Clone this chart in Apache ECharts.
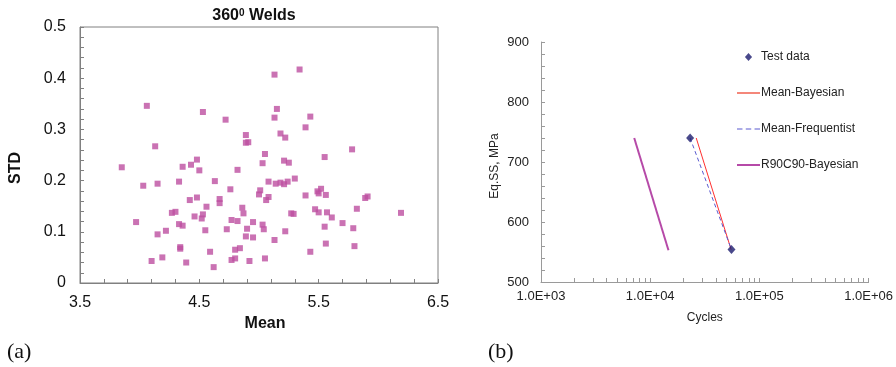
<!DOCTYPE html>
<html>
<head>
<meta charset="utf-8">
<script src="https://cdn.jsdelivr.net/npm/echarts@6.0.0/dist/echarts.min.js"></script>
<style>
  html, body { margin: 0; padding: 0; background: #ffffff; }
  #chart { width: 896px; height: 367px; }
</style>
</head>
<body>
<div id="chart"></div>
<script>
// (a) 360° welds: mean vs standard deviation of each weld
const meanValues = [
  3.85, 4.06, 3.97, 4.03, 4.13, 4.15, 4.15, 4.10, 4.19, 4.22,
  4.27, 4.30, 4.33, 4.36, 4.33, 4.36, 4.34, 4.34, 4.39, 4.42,
  4.43, 4.48, 4.48, 4.46, 4.50, 4.53, 4.53, 4.52, 4.56, 4.55,
  4.59, 4.62, 4.63, 4.67, 4.67, 4.72, 4.73, 4.76, 4.77, 4.77,
  4.80, 4.80, 4.82, 4.84, 4.82, 4.86, 4.87, 4.89, 4.89, 4.91,
  4.90, 4.89, 4.92, 4.95, 4.95, 5.00, 5.01, 5.03, 5.05, 5.06,
  5.08, 5.08, 5.03, 5.04, 5.05, 5.13, 5.13, 5.15, 5.14, 5.18,
  5.22, 5.18, 5.21, 5.24, 5.21, 5.25, 5.30, 5.13, 5.22, 5.27,
  5.29, 5.34, 5.39, 5.43, 5.39, 5.47, 5.49, 5.50, 5.52, 5.56,
  5.50, 5.55, 5.57, 5.61, 5.55, 5.56, 5.43, 5.70, 5.78, 5.79,
  5.80, 5.82, 5.89, 5.91, 6.19
];
const stdValues = [
  0.226, 0.346, 0.119, 0.190, 0.267, 0.194, 0.095, 0.043, 0.050, 0.102,
  0.137, 0.139, 0.198, 0.227, 0.115, 0.112, 0.070, 0.067, 0.040, 0.162,
  0.231, 0.241, 0.167, 0.130, 0.220, 0.334, 0.134, 0.126, 0.149, 0.103,
  0.061, 0.031, 0.199, 0.164, 0.156, 0.319, 0.105, 0.183, 0.123, 0.045,
  0.048, 0.065, 0.121, 0.068, 0.221, 0.147, 0.136, 0.289, 0.274, 0.275,
  0.106, 0.091, 0.043, 0.119, 0.089, 0.173, 0.181, 0.234, 0.252, 0.162,
  0.168, 0.198, 0.114, 0.105, 0.048, 0.323, 0.407, 0.340, 0.194, 0.292,
  0.284, 0.196, 0.193, 0.198, 0.239, 0.235, 0.204, 0.084, 0.101, 0.136,
  0.135, 0.417, 0.304, 0.325, 0.171, 0.144, 0.179, 0.175, 0.184, 0.172,
  0.138, 0.246, 0.138, 0.128, 0.110, 0.077, 0.061, 0.117, 0.261, 0.107,
  0.072, 0.145, 0.166, 0.169, 0.137
];

// (b) equivalent structural stress vs cycles to failure
const testCycles = [23200, 55500];
const testStress = [740, 554];
const bayesCycles = [26400, 55100];
const bayesStress = [740, 554];
const freqCycles = [23200, 55500];
const freqStress = [740, 554];
const r90c90Cycles = [7140, 14700];
const r90c90Stress = [740, 553];

const xTicksA = [3.5, 4.5, 5.5, 6.5];
const seriesNames = ['Test data', 'Mean-Bayesian', 'Mean-Frequentist', 'R90C90-Bayesian'];

const zip = (xs, ys) => xs.map((x, i) => [x, ys[i]]);

const SANS = 'Liberation Sans, Arial, sans-serif';
const SERIF = 'Liberation Serif, Times New Roman, serif';

// legend glyphs: small diamond, solid bar, dashed bar
const ICON_DIAMOND = 'path://M4,0L8,4.5L4,9L0,4.5Z';
const ICON_SOLID = 'path://M0,0H23V2H0Z';
const ICON_DASHED = 'path://M0,0H5V1H0Z M8,0H13V1H8Z M16,0H21V1H16Z';

const chart = echarts.init(document.getElementById('chart'), null, { renderer: 'canvas' });

const option = {
  animation: false,
  backgroundColor: '#ffffff',
  textStyle: { fontFamily: SANS },
  graphic: [
    {
      type: 'text', x: 254, y: 16,
      style: {
        text: '360{sup|0} Welds',
        align: 'center', verticalAlign: 'middle',
        fontFamily: SANS, fontSize: 16, fontWeight: 'bold', fill: '#111',
        rich: { sup: { fontSize: 10, fontWeight: 'bold', verticalAlign: 'top', fontFamily: SANS } }
      }
    },
    {
      type: 'text', x: 7, y: 352,
      style: { text: '(a)', fontFamily: SERIF, fontSize: 22, fill: '#111', verticalAlign: 'middle' }
    },
    {
      type: 'text', x: 488, y: 352,
      style: { text: '(b)', fontFamily: SERIF, fontSize: 22, fill: '#111', verticalAlign: 'middle' }
    }
  ],
  legend: {
    data: [
      { name: seriesNames[0], icon: ICON_DIAMOND },
      { name: seriesNames[1], icon: ICON_SOLID },
      { name: seriesNames[2], icon: ICON_DASHED },
      { name: seriesNames[3], icon: ICON_SOLID }
    ],
    orient: 'vertical',
    left: 737, top: 51,
    itemWidth: 23, itemHeight: 8, itemGap: 24,
    symbolKeepAspect: true,
    padding: 0,
    textStyle: { fontFamily: SANS, fontSize: 12, color: '#222', padding: [0, 0, 0, -4] }
  },
  grid: [
    { left: 80, top: 27, width: 358, height: 256, show: true, borderColor: '#808080', borderWidth: 1, backgroundColor: 'transparent' },
    { left: 541, top: 42, width: 328, height: 240 }
  ],
  xAxis: [
    {
      gridIndex: 0, type: 'value', min: xTicksA[0], max: xTicksA[xTicksA.length - 1], interval: 1,
      axisLine: { show: true, lineStyle: { color: '#808080', width: 1 } },
      axisTick: { show: true, inside: true, length: 4, lineStyle: { color: '#808080' } },
      minorTick: { show: true, splitNumber: 5, length: 4, lineStyle: { color: '#808080' } },
      splitLine: { show: false },
      axisLabel: { fontFamily: SANS, fontSize: 16, color: '#111', margin: 12, formatter: v => v.toFixed(1) },
      name: 'Mean', nameLocation: 'middle', nameGap: 31,
      nameTextStyle: { fontFamily: SANS, fontSize: 16, fontWeight: 'bold', color: '#111', padding: [0, 0, 0, 12] }
    },
    {
      gridIndex: 1, type: 'log', logBase: 10, min: 1000, max: 1000000,
      axisLine: { show: true, lineStyle: { color: '#9a9a9a', width: 1 } },
      axisTick: { show: true, inside: true, length: 4, lineStyle: { color: '#9a9a9a' } },
      minorTick: { show: true, splitNumber: 9, length: 4, lineStyle: { color: '#9a9a9a' } },
      splitLine: { show: false },
      axisLabel: {
        fontFamily: SANS, fontSize: 13, color: '#222', margin: 8,
        formatter: v => '1.0E+' + String(Math.round(Math.log10(v))).padStart(2, '0')
      },
      name: 'Cycles', nameLocation: 'middle', nameGap: 30,
      nameTextStyle: { fontFamily: SANS, fontSize: 12, color: '#222' }
    }
  ],
  yAxis: [
    {
      gridIndex: 0, type: 'value', min: 0, max: 0.5, interval: 0.1,
      axisLine: { show: true, lineStyle: { color: '#808080', width: 1 } },
      axisTick: { show: true, inside: true, length: 4, lineStyle: { color: '#808080' } },
      minorTick: { show: true, splitNumber: 5, length: 4, lineStyle: { color: '#808080' } },
      splitLine: { show: false },
      axisLabel: { fontFamily: SANS, fontSize: 16, color: '#111', margin: 14, formatter: v => (v === 0 ? '0' : v.toFixed(1)) },
      name: 'STD', nameLocation: 'middle', nameGap: 56, nameRotate: 90,
      nameTextStyle: { fontFamily: SANS, fontSize: 16, fontWeight: 'bold', color: '#111', padding: [0, 26, 0, 0] }
    },
    {
      gridIndex: 1, type: 'value', min: 500, max: 900, interval: 100,
      axisLine: { show: true, lineStyle: { color: '#9a9a9a', width: 1 } },
      axisTick: { show: true, inside: true, length: 4, lineStyle: { color: '#9a9a9a' } },
      minorTick: { show: true, splitNumber: 5, length: 4, lineStyle: { color: '#9a9a9a' } },
      splitLine: { show: false },
      axisLabel: { fontFamily: SANS, fontSize: 13, color: '#222', margin: 12 },
      name: 'Eq.SS, MPa', nameLocation: 'middle', nameGap: 40, nameRotate: 90,
      nameTextStyle: { fontFamily: SANS, fontSize: 12, color: '#222', padding: [0, 8, 0, 0] }
    }
  ],
  series: [
    {
      name: 'welds', type: 'scatter', xAxisIndex: 0, yAxisIndex: 0,
      symbol: 'rect', symbolSize: 6,
      itemStyle: { color: '#bd4fa0' },
      data: zip(meanValues, stdValues)
    },
    {
      name: seriesNames[1], type: 'line', xAxisIndex: 1, yAxisIndex: 1,
      symbol: 'none', lineStyle: { color: '#ff3030', width: 1 }, itemStyle: { color: '#f4877a' },
      data: zip(bayesCycles, bayesStress), z: 3
    },
    {
      name: seriesNames[2], type: 'line', xAxisIndex: 1, yAxisIndex: 1,
      symbol: 'none', lineStyle: { color: '#5b5bd0', width: 1, type: [4, 3] }, itemStyle: { color: '#5b5bd0' },
      data: zip(freqCycles, freqStress), z: 3
    },
    {
      name: seriesNames[3], type: 'line', xAxisIndex: 1, yAxisIndex: 1,
      symbol: 'none', lineStyle: { color: '#b64aa8', width: 2 }, itemStyle: { color: '#b64aa8' },
      data: zip(r90c90Cycles, r90c90Stress), z: 3
    },
    {
      name: seriesNames[0], type: 'scatter', xAxisIndex: 1, yAxisIndex: 1,
      symbol: 'diamond', symbolSize: [8, 9],
      itemStyle: { color: '#1c1c6e' },
      data: zip(testCycles, testStress), z: 5
    }
  ]
};

chart.setOption(option);
</script>
</body>
</html>
